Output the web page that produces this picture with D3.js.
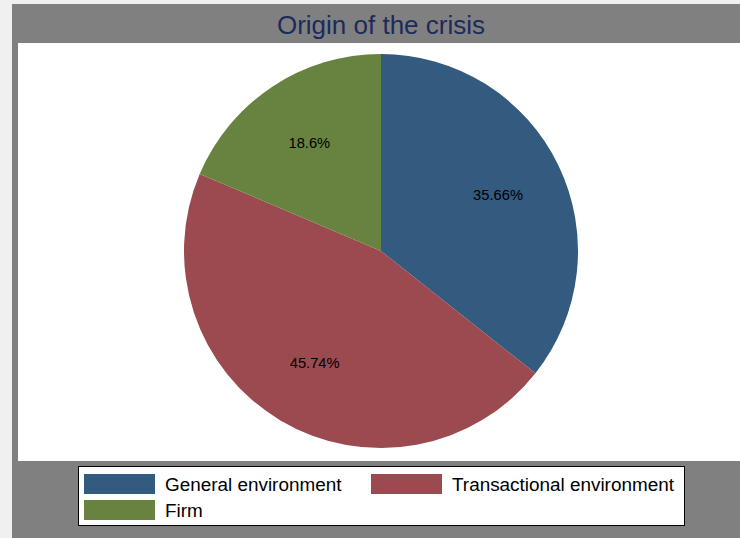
<!DOCTYPE html>
<html>
<head>
<meta charset="utf-8">
<script src="https://cdn.jsdelivr.net/npm/d3@7"></script>
<style>
  body { margin: 0; background: #f0f0f0; }
  text { font-family: "Liberation Sans", Arial, sans-serif; }
</style>
</head>
<body>
<script>
// Pie chart: origin of the crisis
var width = 740;
var height = 538;

// data
var categories = ["General environment", "Transactional environment", "Firm"];
var shares = [35.66, 45.74, 18.6];
var labels = ["35.66%", "45.74%", "18.6%"];
var colors = ["#335a7f", "#9b4a4f", "#67833f"];

var data = categories.map(function(c, i) {
  return {name: c, value: shares[i], label: labels[i], color: colors[i]};
});

var svg = d3.select("body")
  .append("svg")
  .attr("width", width)
  .attr("height", height);

// gray frame + white plot region
svg.append("rect")
  .attr("x", 12).attr("y", 4)
  .attr("width", width - 12).attr("height", height - 4)
  .attr("fill", "#808080");

svg.append("rect")
  .attr("x", 18).attr("y", 43)
  .attr("width", width - 18).attr("height", 418)
  .attr("fill", "#ffffff");

svg.append("text")
  .attr("x", 381).attr("y", 34)
  .attr("text-anchor", "middle")
  .attr("font-size", 26)
  .attr("fill", "#1c2b5a")
  .text("Origin of the crisis");

var cx = 381, cy = 251, radius = 197;

var pie = d3.pie()
  .sort(null)
  .value(function(d) { return d.value; });

var arc = d3.arc().innerRadius(0).outerRadius(radius);
var labelArc = d3.arc().innerRadius(130).outerRadius(130);

var g = svg.append("g")
  .attr("transform", "translate(" + cx + "," + cy + ")");

var slices = g.selectAll("g.slice")
  .data(pie(data))
  .enter()
  .append("g")
  .attr("class", "slice");

slices.append("path")
  .attr("d", arc)
  .attr("fill", function(d) { return d.data.color; });

slices.append("text")
  .attr("transform", function(d) { return "translate(" + labelArc.centroid(d) + ")"; })
  .attr("text-anchor", "middle")
  .attr("dy", "0.35em")
  .attr("font-size", 14.7)
  .attr("fill", "#000")
  .text(function(d) { return d.data.label; });

// legend
var legend = svg.append("g");
legend.append("rect")
  .attr("x", 78.5).attr("y", 466.5)
  .attr("width", 606).attr("height", 59)
  .attr("fill", "#fff")
  .attr("stroke", "#000")
  .attr("stroke-width", 1);

var legendPos = [
  {x: 84, y: 474},
  {x: 371, y: 474},
  {x: 84, y: 500}
];

var items = legend.selectAll("g.item")
  .data(data)
  .enter()
  .append("g")
  .attr("class", "item")
  .attr("transform", function(d, i) { return "translate(" + legendPos[i].x + "," + legendPos[i].y + ")"; });

items.append("rect")
  .attr("width", 71).attr("height", 20)
  .attr("fill", function(d) { return d.color; });

items.append("text")
  .attr("x", 81).attr("y", 17)
  .attr("font-size", 18.9)
  .attr("fill", "#000")
  .text(function(d) { return d.name; });
</script>
</body>
</html>
